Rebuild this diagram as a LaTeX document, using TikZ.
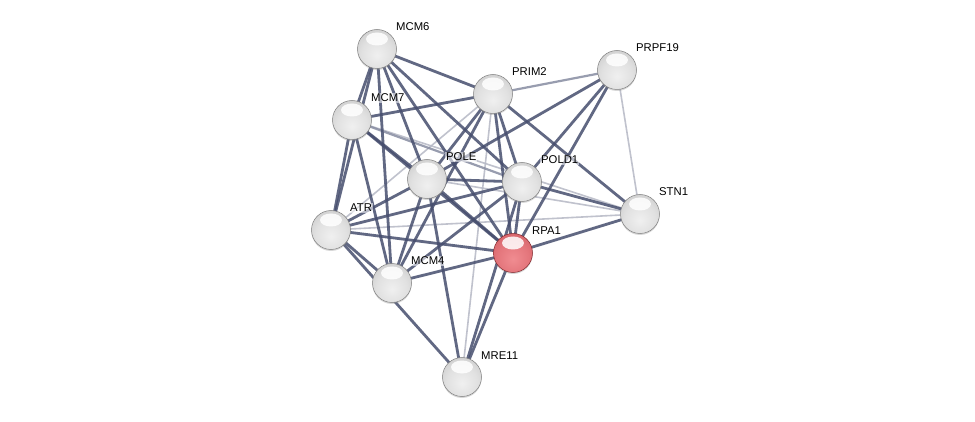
\documentclass[tikz,border=0pt]{standalone}
\usepackage{fontspec}
\setmainfont{Liberation Sans}
\usetikzlibrary{backgrounds,shadows}
\pgfdeclarelayer{bottom}
\pgfsetlayers{bottom,background,main}
\definecolor{edgec}{RGB}{70,78,110}
\definecolor{ra}{RGB}{240,140,145}
\definecolor{rb}{RGB}{228,118,124}
\definecolor{rc}{RGB}{208,92,98}
\definecolor{rd}{RGB}{180,64,72}
\definecolor{re}{RGB}{140,40,48}
\definecolor{rline}{RGB}{130,40,45}
\pgfdeclareradialshading{gball}{\pgfpoint{0bp}{-8bp}}{%
 color(0bp)=(white!94!black); color(20bp)=(white!88!black); color(38bp)=(white!78!black);
 color(50bp)=(white!66!black); color(58bp)=(white!50!black); color(100bp)=(white!50!black)}
\pgfdeclareradialshading{rball}{\pgfpoint{0bp}{-8bp}}{%
 color(0bp)=(ra); color(20bp)=(rb); color(38bp)=(rc);
 color(50bp)=(rd); color(58bp)=(re); color(100bp)=(re)}
\tikzset{
 prot/.style={circle, minimum size=39pt, inner sep=0pt, shading=gball, draw=black!50, line width=0.5pt,
   drop shadow={opacity=0.3, shadow xshift=0pt, shadow yshift=-1.5pt},
   path picture={\fill[white,opacity=0.85] ([yshift=10pt]path picture bounding box.center) ellipse (11pt and 6.5pt);}},
 qprot/.style={prot, shading=rball, draw=rline},
 lab/.style={anchor=base west, inner sep=1pt, fill=white, fill opacity=0.55, text opacity=1,
   font=\fontsize{11.3}{13}\selectfont},
 ed/.style={draw=edgec, line width=2.8pt, opacity=0.85},
 em/.style={draw=edgec!65!white, line width=2.2pt, opacity=0.85},
 el/.style={draw=edgec!40!white, line width=1.6pt, opacity=0.85}
}
\begin{document}
\begin{tikzpicture}[x=1pt,y=-1pt]
\begin{pgfonlayer}{bottom}
\fill[white] (0,0) rectangle (975,422);
\end{pgfonlayer}
\useasboundingbox (0,0) rectangle (975,422);
\node[prot] (MCM6) at (377,49) {};
\node[prot] (PRIM2) at (493,94) {};
\node[prot] (PRPF19) at (617,70) {};
\node[prot] (MCM7) at (352,120) {};
\node[prot] (POLE) at (427,179) {};
\node[prot] (POLD1) at (522,182) {};
\node[prot] (STN1) at (640,214) {};
\node[prot] (ATR) at (331,230) {};
\node[qprot] (RPA1) at (513,253) {};
\node[prot] (MCM4) at (392,283) {};
\node[prot] (MRE11) at (462,377) {};
\foreach \n in {MCM6,PRIM2,PRPF19,MCM7,POLE,POLD1,STN1,ATR,RPA1,MCM4,MRE11}
  \node[lab] (t\n) at ([shift={(18pt,18pt)}]\n.center) {\n};
\begin{pgfonlayer}{background}
% light edges
\draw[el] (PRPF19.center) -- (STN1.center);
\draw[el] (ATR.center) -- (STN1.center);
\draw[el] (PRIM2.center) -- (MRE11.center);
\draw[el] (MCM7.center) -- (STN1.center);
\draw[el] (ATR.center) -- (PRIM2.center);
\draw[el] (POLE.center) -- (STN1.center);
% medium edges
\draw[em] (PRIM2.center) -- (PRPF19.center);
\draw[em] (MCM7.center) -- (POLD1.center);
% dark edges
\foreach \a/\b in {MCM6/MCM7,MCM6/ATR,MCM6/MCM4,MCM6/POLE,MCM6/POLD1,MCM6/RPA1,MCM6/PRIM2,
  MCM7/PRIM2,MCM7/ATR,MCM7/MCM4,MCM7/POLE,MCM7/RPA1,
  PRIM2/POLE,PRIM2/POLD1,PRIM2/RPA1,PRIM2/STN1,PRIM2/MCM4,
  POLE/POLD1,POLE/RPA1,POLE/MCM4,POLE/ATR,POLE/MRE11,
  POLD1/RPA1,POLD1/MCM4,POLD1/ATR,POLD1/MRE11,POLD1/STN1,
  RPA1/MCM4,RPA1/ATR,RPA1/MRE11,RPA1/STN1,RPA1/PRPF19,
  ATR/MCM4,ATR/MRE11,PRPF19/POLE,PRPF19/POLD1}
  \draw[ed] (\a.center) -- (\b.center);
\end{pgfonlayer}
\end{tikzpicture}
\end{document}
